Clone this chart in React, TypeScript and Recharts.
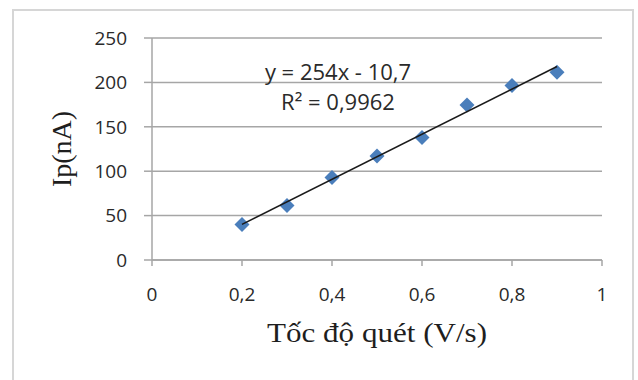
import {
  ComposedChart,
  Scatter,
  XAxis,
  YAxis,
  CartesianGrid,
} from 'recharts';

// tốc độ quét (V/s) và dòng đỉnh Ip (nA)
const scanRates = [0.2, 0.3, 0.4, 0.5, 0.6, 0.7, 0.8, 0.9];
const peakCurrents = [40, 61.5, 93, 117, 138, 174.5, 196.5, 211.5];

const xTicks = [0, 0.2, 0.4, 0.6, 0.8, 1];
const yTicks = [0, 50, 100, 150, 200, 250];

// đường xu hướng tuyến tính từ phương trình hồi quy
const slope = 254;
const intercept = -10.7;
const trendRange = [0.2, 0.9];
const equationText = 'y = 254x - 10,7';
const r2Text = 'R² = 0,9962';

const points = scanRates.map((x, i) => ({ x, y: peakCurrents[i] }));
const trend = trendRange.map((x) => ({ x, y: slope * x + intercept }));

const GRID = '#a6a6a6';
const TEXT = '#2a2a2a';
const SANS = '"Open Sans", sans-serif';
const SERIF = '"Liberation Serif", "Times New Roman", serif';

const fmt = (v: number) => String(v).replace('.', ',');

const Diamond = (props: any) => {
  const { cx, cy } = props;
  const r = 7.5;
  return (
    <polygon
      points={`${cx},${cy - r} ${cx + r},${cy} ${cx},${cy + r} ${cx - r},${cy}`}
      fill="#4a7ebb"
    />
  );
};

export default function App() {
  return (
    <div
      style={{
        position: 'absolute',
        left: 0,
        top: 0,
        width: 638,
        height: 380,
        background: '#fff',
        overflow: 'hidden',
      }}
    >
      <div
        style={{
          position: 'absolute',
          left: 12,
          top: 9,
          width: 618,
          height: 420,
          border: '2px solid #d6d6d6',
        }}
      />
      <div style={{ position: 'absolute', left: 0, top: 0 }}>
        <ComposedChart
          width={638}
          height={380}
          margin={{ top: 38, right: 36, bottom: 0, left: 0 }}
        >
          <CartesianGrid vertical={false} stroke={GRID} strokeWidth={1.5} />
          <XAxis
            type="number"
            dataKey="x"
            domain={[0, 1]}
            ticks={xTicks}
            tickFormatter={fmt}
            height={120}
            stroke={GRID}
            strokeWidth={1.5}
            tickSize={6}
            tickMargin={22}
            tick={{ fill: TEXT, fontSize: 19, fontFamily: SANS }}
            label={{
              content: (p: any) => (
                <text
                  x={p.viewBox.x + p.viewBox.width / 2}
                  y={p.viewBox.y + 82}
                  textAnchor="middle"
                  fill="#1e1e1e"
                  fontSize={27}
                  fontFamily={SERIF}
                  textLength={220}
                  lengthAdjust="spacingAndGlyphs"
                >
                  Tốc độ quét (V/s)
                </text>
              ),
            }}
          />
          <YAxis
            type="number"
            dataKey="y"
            domain={[0, 250]}
            ticks={yTicks}
            width={152}
            stroke={GRID}
            strokeWidth={1.5}
            tickSize={8}
            tickMargin={17}
            tick={{ fill: TEXT, fontSize: 19, fontFamily: SANS }}
            label={{
              content: (p: any) => {
                const cx = p.viewBox.x + 62;
                const cy = p.viewBox.y + p.viewBox.height / 2;
                return (
                  <text
                    x={cx}
                    y={cy}
                    transform={`rotate(-90 ${cx} ${cy})`}
                    textAnchor="middle"
                    dominantBaseline="central"
                    fill="#1e1e1e"
                    fontSize={27}
                    fontFamily={SERIF}
                    textLength={76}
                    lengthAdjust="spacingAndGlyphs"
                  >
                    Ip(nA)
                  </text>
                );
              },
            }}
          />
          <Scatter
            data={points}
            dataKey="y"
            shape={<Diamond />}
            isAnimationActive={false}
          />
          <Scatter
            data={trend}
            dataKey="y"
            line={{ stroke: '#1a1a1a', strokeWidth: 1.6 }}
            lineType="joint"
            shape={() => <g />}
            isAnimationActive={false}
          />
        </ComposedChart>
      </div>
      <div
        style={{
          position: 'absolute',
          left: 238,
          top: 56,
          width: 200,
          textAlign: 'center',
          fontFamily: SANS,
          fontSize: 22,
          lineHeight: '30px',
          color: TEXT,
          whiteSpace: 'nowrap',
        }}
      >
        <div>{equationText}</div>
        <div>{r2Text}</div>
      </div>
    </div>
  );
}
